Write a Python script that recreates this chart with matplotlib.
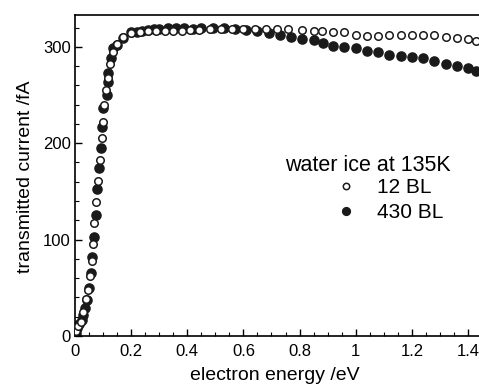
import matplotlib
matplotlib.use("Agg")
import matplotlib.pyplot as plt
from matplotlib.ticker import MultipleLocator

plt.rcParams['font.family'] = ['Liberation Sans', 'DejaVu Sans']

# 12 BL (open circles)
e_12 = [0.005, 0.01, 0.02, 0.03, 0.04, 0.048, 0.055, 0.06, 0.064, 0.068,
        0.075, 0.082, 0.089, 0.096, 0.1, 0.105, 0.11, 0.117, 0.125, 0.135,
        0.15, 0.17, 0.2, 0.23, 0.26, 0.29, 0.32, 0.35, 0.38, 0.41,
        0.44, 0.48, 0.52, 0.56, 0.6, 0.64, 0.68, 0.72, 0.76, 0.81,
        0.85, 0.88, 0.92, 0.96, 1.0, 1.04, 1.08, 1.12, 1.16, 1.2,
        1.24, 1.28, 1.32, 1.36, 1.4, 1.43]
i_12 = [5, 10, 15, 25, 38, 48, 62, 78, 95, 117,
        139, 161, 183, 205, 222, 240, 255, 268, 282, 295,
        303, 310, 314, 315, 316, 316, 316, 316, 316, 317,
        317, 318, 318, 318, 318, 318, 318, 318, 318, 317,
        316, 316, 315, 315, 312, 311, 311, 312, 312, 312,
        312, 312, 310, 309, 308, 306]

# 430 BL (filled circles)
e_430 = [0.003, 0.007, 0.015, 0.025, 0.03, 0.036, 0.043, 0.05, 0.057, 0.06,
         0.068, 0.075, 0.078, 0.085, 0.093, 0.096, 0.1, 0.113, 0.117, 0.118,
         0.13, 0.136, 0.148, 0.17, 0.2, 0.22, 0.24, 0.26, 0.28, 0.3,
         0.33, 0.36, 0.39, 0.42, 0.45, 0.49, 0.53, 0.57, 0.61, 0.65,
         0.69, 0.73, 0.77, 0.81, 0.85, 0.885, 0.92, 0.96, 1.0, 1.04,
         1.08, 1.12, 1.16, 1.2, 1.24, 1.28, 1.32, 1.36, 1.4, 1.43]
i_430 = [3, 8, 12, 17, 22, 29, 37, 50, 65, 82,
         103, 126, 152, 174, 195, 217, 237, 250, 263, 273,
         288, 299, 302, 309, 315, 315, 316, 317, 318, 318,
         319, 319, 319, 318, 319, 319, 319, 318, 317, 316,
         314, 312, 310, 308, 307, 304, 301, 300, 299, 296,
         295, 292, 290, 289, 288, 285, 282, 280, 278, 275]

fig = plt.figure(figsize=(4.79, 3.87), dpi=100)
ax = fig.add_axes([75 / 479, 51 / 387, 407 / 479, 321 / 387])

ax.plot(e_430, i_430, 'o', color='#1a1a1a', ms=6.6, mec='#1a1a1a', label='430 BL', zorder=2)
ax.plot(e_12, i_12, 'o', mfc='white', mec='#1a1a1a', ms=5.4, mew=1.1, label='12 BL', zorder=3)

ax.set_xlim(0, 1.45)
ax.set_ylim(0, 333)
ax.xaxis.set_minor_locator(MultipleLocator(0.05))
ax.yaxis.set_major_locator(MultipleLocator(100))
ax.yaxis.set_minor_locator(MultipleLocator(20))
ax.set_xticks([0, 0.2, 0.4, 0.6, 0.8, 1.0, 1.2, 1.4])
ax.set_xticklabels(['0', '0.2', '0.4', '0.6', '0.8', '1', '1.2', '1.4'])
ax.tick_params(which='major', direction='in', length=5, width=1, labelsize=12)
ax.tick_params(axis='x', which='major', pad=6)
ax.tick_params(axis='y', which='major', pad=3)
ax.tick_params(which='minor', direction='in', length=3, width=0.8)
ax.tick_params(top=False, right=False)
for s in ax.spines.values():
    s.set_linewidth(1.2)

ax.set_xlabel('electron energy /eV', fontsize=14)
ax.set_ylabel('transmitted current /fA', fontsize=14)
ax.xaxis.set_label_coords(0.49, -0.097)
ax.yaxis.set_label_coords(-0.1, 0.495)

ax.text(0.72, 0.532, 'water ice at 135K', transform=ax.transAxes,
        ha='center', va='center', fontsize=15.5)
handles, labels = ax.get_legend_handles_labels()
ax.legend(handles[::-1], labels[::-1], loc='upper left', bbox_to_anchor=(0.605, 0.538),
          frameon=False, fontsize=15, handlelength=1.0, handletextpad=1.0,
          labelspacing=0.3, borderpad=0.2, markerscale=0.85)

fig.savefig('out.png', dpi=100)
